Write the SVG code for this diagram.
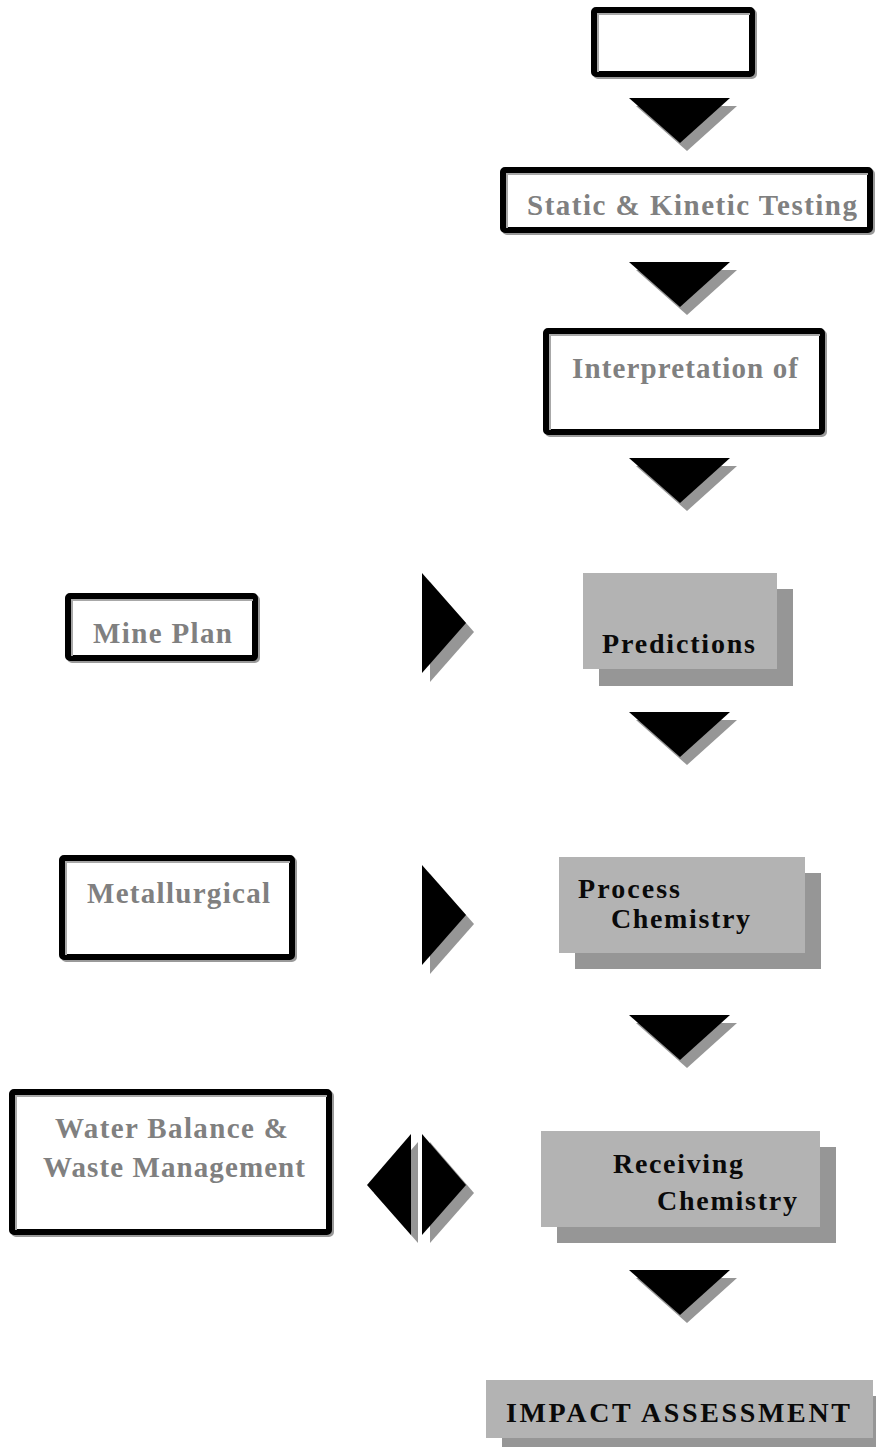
<svg xmlns="http://www.w3.org/2000/svg" width="876" height="1447" viewBox="0 0 876 1447">
<defs>
<style>
.bg{fill:#ffffff}
.osh{fill:none;stroke:#9a9a9a;stroke-width:6}
.ob{fill:#ffffff;stroke:#000000;stroke-width:6}
.oin{fill:none;stroke:#a8a8a8;stroke-width:2}
.gb{fill:#b3b3b3}
.gsh{fill:#969696}
.arr{fill:#000000}
.ash{fill:#969696}
.gl{font-family:"Liberation Serif","Times New Roman",serif;font-weight:bold;font-size:29px;fill:#808080}
.bl{font-family:"Liberation Serif","Times New Roman",serif;font-weight:bold;font-size:28px;fill:#0a0a0a}
</style>
</defs>
<rect class="bg" x="0" y="0" width="876" height="1447"/>

<g id="connectors">
  <g id="down1"><polygon class="ash" points="636,106 737,106 687,151"/><polygon class="arr" points="629,98 730,98 680,143"/></g>
  <g id="down2"><polygon class="ash" points="636,270 737,270 687,315"/><polygon class="arr" points="629,262 730,262 680,307"/></g>
  <g id="down3"><polygon class="ash" points="636,466 737,466 687,511"/><polygon class="arr" points="629,458 730,458 680,503"/></g>
  <g id="down4"><polygon class="ash" points="636,720 737,720 687,765"/><polygon class="arr" points="629,712 730,712 680,757"/></g>
  <g id="down5"><polygon class="ash" points="636,1023 737,1023 687,1068"/><polygon class="arr" points="629,1015 730,1015 680,1060"/></g>
  <g id="down6"><polygon class="ash" points="636,1278 737,1278 687,1323"/><polygon class="arr" points="629,1270 730,1270 680,1315"/></g>
  <g id="right1"><polygon class="ash" points="430,582 474,632 430,682"/><polygon class="arr" points="422,573 466,623 422,673"/></g>
  <g id="right2"><polygon class="ash" points="430,874 474,924 430,974"/><polygon class="arr" points="422,865 466,915 422,965"/></g>
  <g id="double"><polygon class="ash" points="418,1142 374,1193 418,1243"/><polygon class="arr" points="411,1134 367,1185 411,1235"/><polygon class="ash" points="430,1142 474,1193 430,1243"/><polygon class="arr" points="422,1134 466,1185 422,1235"/></g>
</g>

<g id="node-top">
  <rect class="osh" x="596" y="12" width="158" height="64" rx="2"/>
  <rect class="ob" x="594" y="10" width="158" height="64" rx="2"/>
  <path class="oin" d="M598,72 V14 H750"/>
</g>

<g id="node-static">
  <rect class="osh" x="505" y="172" width="367" height="60" rx="2"/>
  <rect class="ob" x="503" y="170" width="367" height="60" rx="2"/>
  <path class="oin" d="M507,228 V174 H868"/>
  <text class="gl" x="527" y="215" textLength="330" lengthAdjust="spacing">Static &amp; Kinetic Testing</text>
</g>

<g id="node-interpretation">
  <rect class="osh" x="548" y="333" width="276" height="101" rx="2"/>
  <rect class="ob" x="546" y="331" width="276" height="101" rx="2"/>
  <path class="oin" d="M550,430 V335 H820"/>
  <text class="gl" x="572" y="378" textLength="226" lengthAdjust="spacing">Interpretation of</text>
</g>

<g id="node-mineplan">
  <rect class="osh" x="70" y="598" width="187" height="62" rx="2"/>
  <rect class="ob" x="68" y="596" width="187" height="62" rx="2"/>
  <path class="oin" d="M72,656 V600 H253"/>
  <text class="gl" x="93" y="643" textLength="139" lengthAdjust="spacing">Mine Plan</text>
</g>

<g id="node-metallurgical">
  <rect class="osh" x="64" y="860" width="230" height="99" rx="2"/>
  <rect class="ob" x="62" y="858" width="230" height="99" rx="2"/>
  <path class="oin" d="M66,955 V862 H290"/>
  <text class="gl" x="87" y="903" textLength="183" lengthAdjust="spacing">Metallurgical</text>
</g>

<g id="node-water">
  <rect class="osh" x="14" y="1094" width="317" height="140" rx="2"/>
  <rect class="ob" x="12" y="1092" width="317" height="140" rx="2"/>
  <path class="oin" d="M16,1230 V1096 H327"/>
  <text class="gl" x="55" y="1138" textLength="233" lengthAdjust="spacing">Water Balance &amp;</text>
  <text class="gl" x="43" y="1177" textLength="262" lengthAdjust="spacing">Waste Management</text>
</g>

<g id="node-predictions">
  <rect class="gsh" x="599" y="589" width="194" height="97"/>
  <rect class="gb" x="583" y="573" width="194" height="96"/>
  <text class="bl" x="602" y="653" textLength="153" lengthAdjust="spacing">Predictions</text>
</g>

<g id="node-process">
  <rect class="gsh" x="575" y="873" width="246" height="96"/>
  <rect class="gb" x="559" y="857" width="246" height="96"/>
  <text class="bl" x="578" y="898" textLength="102" lengthAdjust="spacing">Process</text>
  <text class="bl" x="611" y="928" textLength="139" lengthAdjust="spacing">Chemistry</text>
</g>

<g id="node-receiving">
  <rect class="gsh" x="557" y="1147" width="279" height="96"/>
  <rect class="gb" x="541" y="1131" width="279" height="96"/>
  <text class="bl" x="613" y="1173" textLength="130" lengthAdjust="spacing">Receiving</text>
  <text class="bl" x="657" y="1210" textLength="140" lengthAdjust="spacing">Chemistry</text>
</g>

<g id="node-impact">
  <rect class="gsh" x="502" y="1396" width="374" height="51"/>
  <rect class="gb" x="486" y="1380" width="387" height="58"/>
  <text class="bl" x="506" y="1422" textLength="344" lengthAdjust="spacing">IMPACT ASSESSMENT</text>
</g>
</svg>
